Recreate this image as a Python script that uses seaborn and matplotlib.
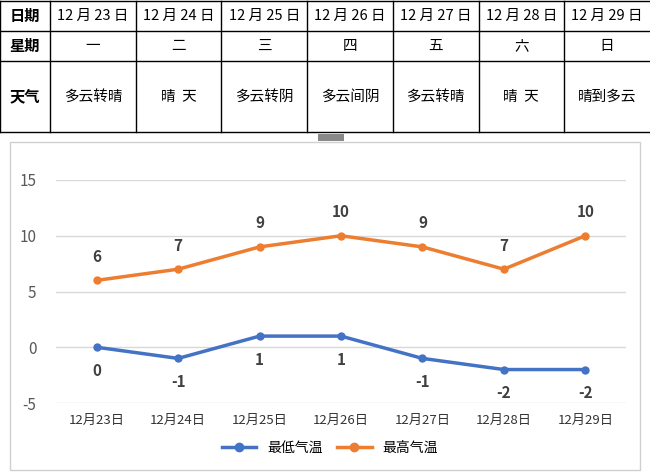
import matplotlib.pyplot as plt
import seaborn as sns
import pandas as pd
from matplotlib.patches import Rectangle
from matplotlib.lines import Line2D

plt.rcParams['font.family'] = ['Noto Sans CJK JP', 'Noto Sans CJK SC', 'DejaVu Sans']
plt.rcParams['axes.unicode_minus'] = False

dates = ['12月23日', '12月24日', '12月25日', '12月26日', '12月27日', '12月28日', '12月29日']
head_dates = ['12 月 23 日', '12 月 24 日', '12 月 25 日', '12 月 26 日', '12 月 27 日', '12 月 28 日', '12 月 29 日']
weekdays = ['一', '二', '三', '四', '五', '六', '日']
weather = ['多云转晴', '晴  天', '多云转阴', '多云间阴', '多云转晴', '晴  天', '晴到多云']
low_temp = [0, -1, 1, 1, -1, -2, -2]
high_temp = [6, 7, 9, 10, 9, 7, 10]

W, H = 650, 473
fig = plt.figure(figsize=(6.5, 4.73), dpi=100)

def fx(x):
    return x / W

def fy(y):
    return 1 - y / H

# table on top
col_x = [0, 50] + [50 + 85.7 * (i + 1) for i in range(7)]
row_y = [1, 31, 61, 132]
for y in row_y:
    fig.add_artist(plt.Line2D([0, 1], [fy(y), fy(y)], color='black', lw=1))
for x in col_x[:-1]:
    fig.add_artist(plt.Line2D([fx(x), fx(x)], [fy(1), fy(132)], color='black', lw=1))
row_names = ['日期', '星期', '天气']
rows = [head_dates, weekdays, weather]
for r in range(3):
    cy = fy((row_y[r] + row_y[r + 1]) / 2)
    fig.text(fx(25), cy, row_names[r], ha='center', va='center', fontsize=11, fontweight='bold')
    for c in range(7):
        cx = fx((col_x[c + 1] + col_x[c + 2]) / 2)
        fig.text(cx, cy, rows[r][c], ha='center', va='center', fontsize=10.5)

# chart border
fig.add_artist(Rectangle((fx(10), fy(470)), fx(630), 328 / H, fill=False, ec='#d0d0d0', lw=1))
fig.add_artist(Rectangle((fx(318), fy(141)), fx(26), 7 / H, fc='#888888', ec='none'))

ax = fig.add_axes([fx(56), fy(403), fx(570), 223 / H])
df = pd.DataFrame({'x': range(7), '最低气温': low_temp, '最高气温': high_temp})
long = df.melt('x', var_name='series', value_name='t')
sns.lineplot(data=long, x='x', y='t', hue='series', marker='o', markersize=6,
             markeredgewidth=0, lw=2.5, palette=['#4472C4', '#ED7D31'], ax=ax, legend=False)

for i in range(7):
    ax.text(i, high_temp[i] + 1.4, str(high_temp[i]), ha='center', va='bottom', fontsize=11,
            fontweight='bold', color='#404040')
    ax.text(i, low_temp[i] - 1.4, str(low_temp[i]), ha='center', va='top', fontsize=11,
            fontweight='bold', color='#404040')

ax.set_xlim(-0.5, 6.5)
ax.set_ylim(-5, 15)
ax.set_yticks([-5, 0, 5, 10, 15])
ax.set_xticks(range(7))
ax.set_xticklabels(dates, fontsize=9.5, color='#333333')
ax.tick_params(axis='y', labelsize=11, colors='#595959', length=0, pad=14)
ax.tick_params(axis='x', length=0, pad=8)
ax.grid(axis='y', color='#d9d9d9', lw=1)
ax.set_axisbelow(True)
for s in ax.spines.values():
    s.set_visible(False)
ax.set_xlabel('')
ax.set_ylabel('')

handles = [Line2D([], [], color='#4472C4', lw=2.5, marker='o', markersize=6),
           Line2D([], [], color='#ED7D31', lw=2.5, marker='o', markersize=6)]
fig.legend(handles, ['最低气温', '最高气温'], loc='center', bbox_to_anchor=(fx(330), fy(448)),
           ncol=2, frameon=False, fontsize=10, handlelength=2.5, columnspacing=1.0)

fig.savefig('out.png', dpi=100)
